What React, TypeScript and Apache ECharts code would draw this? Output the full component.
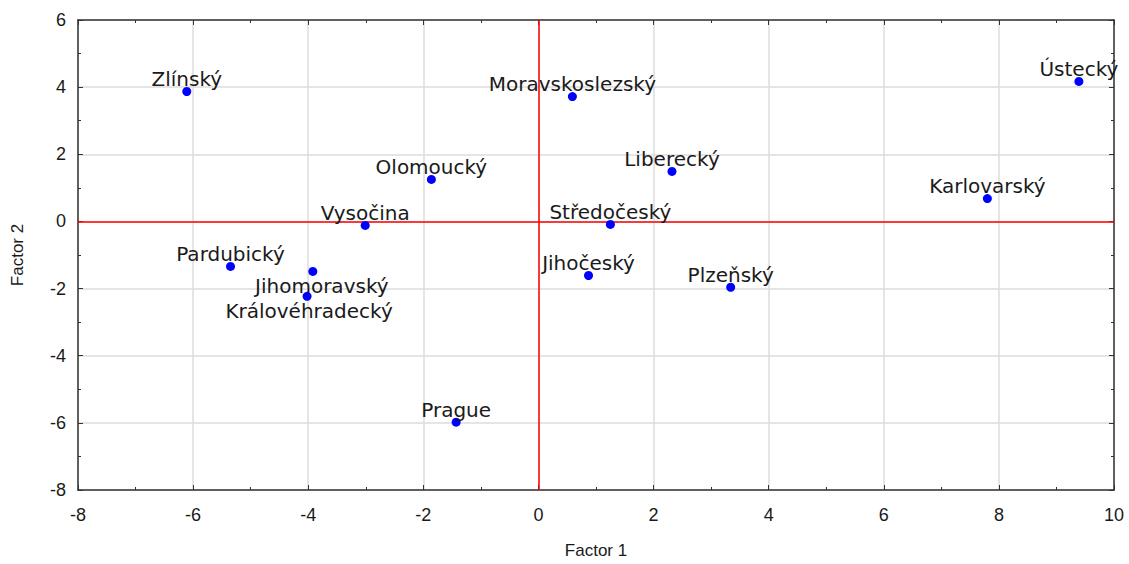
import React, { useEffect, useRef } from "react";
import * as echarts from "echarts";

const regions = [
  "Zlínský", "Moravskoslezský", "Ústecký", "Olomoucký", "Liberecký", "Karlovarský",
  "Vysočina", "Středočeský", "Pardubický", "Jihomoravský", "Královéhradecký",
  "Jihočeský", "Plzeňský", "Prague",
];
const factor1 = [-6.11, 0.59, 9.39, -1.86, 2.32, 7.8, -3.01, 1.25, -5.35, -3.92, -4.02, 0.87, 3.34, -1.43];
const factor2 = [3.87, 3.72, 4.17, 1.25, 1.49, 0.68, -0.12, -0.09, -1.34, -1.49, -2.23, -1.61, -1.96, -5.98];
const labelsBelow = ["Jihomoravský", "Královéhradecký"];

const xTicks = { min: -8, max: 10, interval: 2 };
const yTicks = { min: -8, max: 6, interval: 2 };

const axisFont = "'Liberation Sans Narrow', 'Arial Narrow', 'Liberation Sans', Arial, sans-serif";
const labelFont = "'DejaVu Sans', Verdana, sans-serif";

export default function App() {
  const ref = useRef<HTMLDivElement>(null);
  useEffect(() => {
    document.body.style.margin = "0";
    const chart = echarts.init(ref.current!, undefined, { renderer: "svg" });
    const frame = { show: true, lineStyle: { color: "#333", width: 1.5 } };
    const tick = { show: true, inside: true, length: 5, lineStyle: { color: "#333" } };
    const minor = { show: true, splitNumber: 2, length: 3, lineStyle: { color: "#333" } };
    const data = regions.map((name, i) => {
      const below = labelsBelow.includes(name);
      return {
        name,
        value: [factor1[i], factor2[i]],
        label: below
          ? { position: "bottom", distance: 0, padding: [0, 0, 0, name === "Jihomoravský" ? 18 : 4] }
          : { position: "top", distance: -2 },
      };
    });
    chart.setOption({
      animation: false,
      backgroundColor: "#fff",
      grid: { left: 78, top: 20, right: 15, bottom: 74, containLabel: false },
      xAxis: [
        {
          type: "value", ...xTicks,
          name: "Factor 1", nameLocation: "middle", nameGap: 52,
          nameTextStyle: { fontFamily: axisFont, fontSize: 17, color: "#1a1a1a" },
          axisLine: { ...frame, onZero: false },
          axisTick: tick, minorTick: minor,
          axisLabel: { margin: 16, fontFamily: axisFont, fontSize: 18, color: "#1a1a1a" },
          splitLine: { show: true, lineStyle: { color: "#dcdcdc", width: 1.5 } },
        },
        {
          type: "value", position: "top", ...xTicks,
          axisLine: { ...frame, onZero: false },
          axisTick: tick, minorTick: minor,
          axisLabel: { show: false }, splitLine: { show: false },
        },
      ],
      yAxis: [
        {
          type: "value", ...yTicks,
          name: "Factor 2", nameLocation: "middle", nameGap: 52, nameRotate: 90,
          nameTextStyle: { fontFamily: axisFont, fontSize: 17, color: "#1a1a1a" },
          axisLine: { ...frame, onZero: false },
          axisTick: tick, minorTick: minor,
          axisLabel: { margin: 12, fontFamily: axisFont, fontSize: 18, color: "#1a1a1a" },
          splitLine: { show: true, lineStyle: { color: "#dcdcdc", width: 1.5 } },
        },
        {
          type: "value", position: "right", ...yTicks,
          axisLine: { ...frame, onZero: false },
          axisTick: tick, minorTick: minor,
          axisLabel: { show: false }, splitLine: { show: false },
        },
      ],
      series: [
        {
          type: "scatter",
          xAxisIndex: 0, yAxisIndex: 0,
          symbol: "circle", symbolSize: 9,
          itemStyle: { color: "#0000ff", opacity: 1 },
          label: {
            show: true,
            formatter: "{b}",
            fontFamily: labelFont, fontSize: 20, color: "#1a1a1a",
          },
          labelLayout: { hideOverlap: false },
          data,
          markLine: {
            silent: true, symbol: "none",
            label: { show: false },
            lineStyle: { color: "#ff0000", width: 1.5, type: "solid" },
            data: [{ xAxis: 0 }, { yAxis: 0 }],
          },
          z: 5,
        },
      ],
    });
    return () => chart.dispose();
  }, []);
  return <div ref={ref} style={{ width: 1129, height: 564 }} />;
}
